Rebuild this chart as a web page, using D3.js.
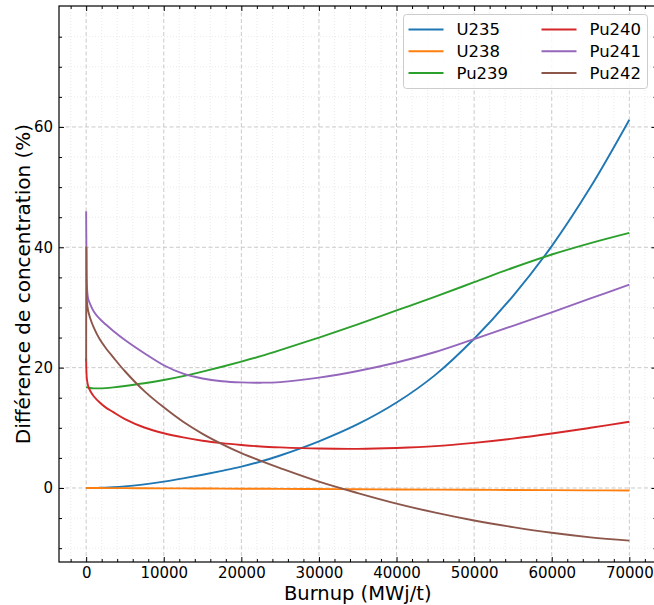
<!DOCTYPE html>
<html>
<head>
<meta charset="utf-8">
<script src="https://cdn.jsdelivr.net/npm/d3@7"></script>
<style>
  html, body { margin: 0; padding: 0; background: #fff; }
  svg { display: block; font-family: "DejaVu Sans", sans-serif; }
</style>
</head>
<body>
<svg id="chart" width="654" height="605"></svg>
<script>
// ---- data ----
const burnup = [0, 30, 100, 250, 500, 1000, 1750, 2500, 3500, 5000, 7500, 10000, 12500, 15000, 17500, 20000, 22500, 25000, 30000, 35000, 40000, 45000, 50000, 55000, 60000, 65000, 70000];
const U235  = [0, 0, 0, 0, 0, 0.01, 0.03, 0.05, 0.12, 0.27, 0.6, 1.05, 1.6, 2.2, 2.85, 3.55, 4.4, 5.4, 7.75, 10.6, 14.2, 18.8, 24.8, 31.9, 40.2, 50.0, 61.2];
const U238  = [0, 0, 0, 0, 0, -0.01, -0.01, -0.02, -0.02, -0.03, -0.04, -0.06, -0.07, -0.09, -0.1, -0.12, -0.13, -0.15, -0.18, -0.21, -0.24, -0.27, -0.3, -0.33, -0.36, -0.39, -0.42];
const Pu239 = [16.78, 16.76, 16.72, 16.68, 16.62, 16.56, 16.55, 16.6, 16.72, 16.95, 17.4, 17.95, 18.6, 19.35, 20.15, 21.0, 21.9, 22.9, 25.0, 27.2, 29.5, 31.8, 34.2, 36.6, 38.8, 40.7, 42.4];
const Pu240 = [21.5, 19.5, 18.0, 17.0, 16.2, 15.2, 14.2, 13.4, 12.6, 11.45, 10.05, 9.1, 8.4, 7.85, 7.45, 7.15, 6.9, 6.75, 6.55, 6.5, 6.65, 6.95, 7.5, 8.2, 9.05, 10.0, 11.0];
const Pu241 = [46, 40, 33.5, 31.5, 30.6, 29.3, 28.1, 27.2, 26.1, 24.6, 22.4, 20.4, 19.0, 18.2, 17.75, 17.55, 17.5, 17.6, 18.35, 19.45, 20.85, 22.6, 24.75, 26.95, 29.2, 31.5, 33.8];
const Pu242 = [21, 40, 31, 29.5, 28.3, 26.6, 24.7, 23.3, 21.7, 19.4, 16.1, 13.4, 11.0, 9.0, 7.3, 5.8, 4.5, 3.3, 1.05, -0.85, -2.6, -4.1, -5.4, -6.5, -7.45, -8.2, -8.75];

const seriesNames = ["U235", "U238", "Pu239", "Pu240", "Pu241", "Pu242"];
const seriesValues = [U235, U238, Pu239, Pu240, Pu241, Pu242];
const colors = ["#1f77b4", "#ff7f0e", "#2ca02c", "#d62728", "#9467bd", "#8c564b"];

const xTicks = [0, 10000, 20000, 30000, 40000, 50000, 60000, 70000];
const yTicks = [0, 20, 40, 60];
const xLabel = "Burnup (MWj/t)";
const yLabel = "Différence de concentration (%)";

// ---- layout ----
const svg = d3.select("#chart");
const L = 59, R = 656.5, T = 6, B = 562;
const x = d3.scaleLinear().domain([-3500, 73500]).range([L, R]);
const y = d3.scaleLinear().domain([-12.3, 80.1]).range([B, T]);

const xMinor = d3.range(-2000, 73500, 2000).filter(v => v % 10000 !== 0);
const yMinor = d3.range(-10, 80, 5).filter(v => v % 20 !== 0);

// grid
const grid = svg.append("g");
grid.selectAll(".xmg").data(xMinor).join("line")
  .attr("x1", d => x(d)).attr("x2", d => x(d)).attr("y1", T).attr("y2", B)
  .attr("stroke", "#e4e4e4").attr("stroke-width", 0.8).attr("stroke-dasharray", "1,2");
grid.selectAll(".ymg").data(yMinor).join("line")
  .attr("y1", d => y(d)).attr("y2", d => y(d)).attr("x1", L).attr("x2", R)
  .attr("stroke", "#e4e4e4").attr("stroke-width", 0.8).attr("stroke-dasharray", "1,2");
grid.selectAll(".xg").data(xTicks).join("line")
  .attr("x1", d => x(d)).attr("x2", d => x(d)).attr("y1", T).attr("y2", B)
  .attr("stroke", "#c4c4c4").attr("stroke-width", 0.9).attr("stroke-dasharray", "4,2.5");
grid.selectAll(".yg").data(yTicks).join("line")
  .attr("y1", d => y(d)).attr("y2", d => y(d)).attr("x1", L).attr("x2", R)
  .attr("stroke", "#c4c4c4").attr("stroke-width", 0.9).attr("stroke-dasharray", "4,2.5");

// lines
svg.append("clipPath").attr("id", "clip").append("rect")
  .attr("x", L).attr("y", T).attr("width", R - L).attr("height", B - T);
const line = d3.line().x(d => x(d[0])).y(d => y(d[1])).curve(d3.curveCatmullRom.alpha(0.5));
const lines = svg.append("g").attr("clip-path", "url(#clip)");
seriesValues.forEach((vals, i) => {
  lines.append("path")
    .datum(burnup.map((b, j) => [b, vals[j]]))
    .attr("d", line)
    .attr("fill", "none")
    .attr("stroke", colors[i])
    .attr("stroke-width", 1.9)
    .attr("stroke-linejoin", "round");
});

// axes with inward ticks on all sides
function styleAxis(g) {
  g.select(".domain").remove();
  g.selectAll(".tick line").attr("stroke", "#000").attr("stroke-width", 1);
  g.selectAll(".tick text").attr("fill", "#000").attr("font-size", 15)
    .attr("font-family", "DejaVu Sans, sans-serif");
}
const xb = svg.append("g").attr("transform", `translate(0,${B})`)
  .call(d3.axisBottom(x).tickValues(xTicks).tickFormat(d3.format("d")).tickSizeInner(-5).tickSizeOuter(0).tickPadding(5));
styleAxis(xb);
const xbm = svg.append("g").attr("transform", `translate(0,${B})`)
  .call(d3.axisBottom(x).tickValues(xMinor).tickFormat("").tickSizeInner(-3).tickSizeOuter(0));
styleAxis(xbm);
const xt = svg.append("g").attr("transform", `translate(0,${T})`)
  .call(d3.axisTop(x).tickValues(xTicks).tickFormat("").tickSizeInner(-5).tickSizeOuter(0));
styleAxis(xt);
const xtm = svg.append("g").attr("transform", `translate(0,${T})`)
  .call(d3.axisTop(x).tickValues(xMinor).tickFormat("").tickSizeInner(-3).tickSizeOuter(0));
styleAxis(xtm);
const yl = svg.append("g").attr("transform", `translate(${L},0)`)
  .call(d3.axisLeft(y).tickValues(yTicks).tickFormat(d3.format("d")).tickSizeInner(-5).tickSizeOuter(0).tickPadding(6));
styleAxis(yl);
const ylm = svg.append("g").attr("transform", `translate(${L},0)`)
  .call(d3.axisLeft(y).tickValues(yMinor).tickFormat("").tickSizeInner(-3).tickSizeOuter(0));
styleAxis(ylm);
const yr = svg.append("g").attr("transform", `translate(${R},0)`)
  .call(d3.axisRight(y).tickValues(yTicks).tickFormat("").tickSizeInner(-5).tickSizeOuter(0));
styleAxis(yr);
const yrm = svg.append("g").attr("transform", `translate(${R},0)`)
  .call(d3.axisRight(y).tickValues(yMinor).tickFormat("").tickSizeInner(-3).tickSizeOuter(0));
styleAxis(yrm);

// spines
svg.append("rect").attr("x", L).attr("y", T).attr("width", R - L).attr("height", B - T)
  .attr("fill", "none").attr("stroke", "#000").attr("stroke-width", 1.2);

// axis labels
svg.append("text").attr("x", (L + R) / 2).attr("y", 600)
  .attr("text-anchor", "middle").attr("font-size", 19.5).attr("fill", "#000").text(xLabel);
svg.append("text").attr("transform", `translate(30,${(T + B) / 2}) rotate(-90)`)
  .attr("text-anchor", "middle").attr("font-size", 20).attr("fill", "#000").text(yLabel);

// legend
const lg = svg.append("g");
lg.append("rect").attr("x", 403.5).attr("y", 14.5).attr("width", 244).attr("height", 74)
  .attr("rx", 3).attr("fill", "#fff").attr("fill-opacity", 0.85)
  .attr("stroke", "#cccccc").attr("stroke-width", 1);
seriesNames.forEach((name, i) => {
  const col = Math.floor(i / 3), row = i % 3;
  const hx = col === 0 ? 408.5 : 541.5;
  const cy = 29.5 + row * 21.7;
  lg.append("line").attr("x1", hx).attr("x2", hx + 35).attr("y1", cy).attr("y2", cy)
    .attr("stroke", colors[i]).attr("stroke-width", 2);
  lg.append("text").attr("x", hx + 48).attr("y", cy).attr("dy", "0.36em")
    .attr("font-size", 16.5).attr("fill", "#000").text(name);
});
</script>
</body>
</html>
